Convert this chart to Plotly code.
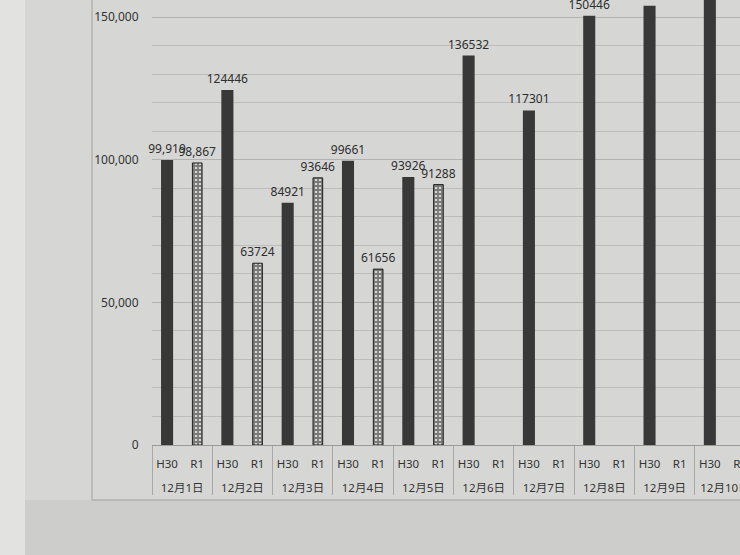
import plotly.graph_objects as go

dates = ["12月1日", "12月2日", "12月3日", "12月4日", "12月5日",
         "12月6日", "12月7日", "12月8日", "12月9日", "12月10日"]
series_names = ["H30", "R1"]
h30_values = [99919, 124446, 84921, 99661, 93926, 136532, 117301, 150446, 154000, 162000]
h30_labels = ["99,919", "124446", "84921", "99661", "93926", "136532", "117301", "150446", "154000", "162000"]
r1_values = [98867, 63724, 93646, 61656, 91288, None, None, None, None, None]
r1_labels = ["98,867", "63724", "93646", "61656", "91288", "", "", "", "", ""]

# build the two-level category axis: (date, H30), (date, R1) for each date
# (the leading <br> only drops the date row a line lower, as in the original)
lvl0, lvl1 = [], []
h30_y, h30_t, r1_y, r1_t = [], [], [], []
for i, d in enumerate(dates):
    for s in series_names:
        lvl0.append("<br>" + d)
        lvl1.append(s)
        if s == "H30":
            h30_y.append(h30_values[i]); h30_t.append(h30_labels[i])
            r1_y.append(None); r1_t.append("")
        else:
            h30_y.append(None); h30_t.append("")
            r1_y.append(r1_values[i]); r1_t.append(r1_labels[i])

FONT = "Noto Sans, Noto Sans CJK JP, sans-serif"
BG = "#d6d7d5"

fig = go.Figure()
fig.add_trace(go.Bar(
    x=[lvl0, lvl1], y=h30_y, text=h30_t, textposition="outside",
    constraintext="none",
    marker=dict(color="#383838", line=dict(width=0)),
    width=0.4, name="H30", cliponaxis=False,
    textfont=dict(size=12, color="#2e2e2e", family=FONT),
))
fig.add_trace(go.Bar(
    x=[lvl0, lvl1], y=r1_y, text=r1_t, textposition="outside",
    constraintext="none",
    marker=dict(color=BG,
                pattern=dict(shape="+", fgcolor="#1e1e1e", bgcolor=BG, size=4, solidity=0.7),
                line=dict(color="#1e1e1e", width=1)),
    width=0.32, name="R1", cliponaxis=False,
    textfont=dict(size=12, color="#2e2e2e", family=FONT),
))

fig.update_layout(
    width=740, height=555,
    margin=dict(l=152, r=0, t=0, b=110, autoexpand=False),
    paper_bgcolor=BG, plot_bgcolor=BG,
    barmode="overlay", showlegend=False,
    font=dict(family=FONT, size=11, color="#333333"),
    xaxis=dict(type="multicategory", range=[-0.5, 19.0], automargin=False,
               showdividers=True, dividercolor="#a8a8a6", dividerwidth=1,
               ticklabelstandoff=8, tickangle=0,
               tickfont=dict(size=11.5, color="#333333"),
               showline=True, linecolor="#9a9a98", linewidth=1, showgrid=False),
    yaxis=dict(range=[0, 156000], dtick=50000, tickformat=",d", automargin=False,
               showgrid=True, gridcolor="#b2b2b0", gridwidth=1,
               minor=dict(dtick=10000, showgrid=True, gridcolor="#bcbcba", gridwidth=1),
               ticks="outside", ticklen=10, tickcolor="rgba(0,0,0,0)",
               tickfont=dict(size=12, color="#333333"),
               zeroline=False, showline=False),
    shapes=[
        # darker paper strip below the chart frame (photo shading)
        dict(type="rect", xref="paper", yref="paper",
             x0=-152 / 588, x1=1.05, y0=-110 / 445, y1=-55 / 445,
             line=dict(width=0), fillcolor="#cdcecc", layer="below"),
        # light edge at the far left of the photo
        dict(type="rect", xref="paper", yref="paper",
             x0=-152 / 588, x1=-127 / 588, y0=-110 / 445, y1=1.0,
             line=dict(width=0), fillcolor="#e2e3e1", layer="below"),
        # chart frame
        dict(type="rect", xref="paper", yref="paper",
             x0=(92 - 152) / 588, x1=1.05, y0=-55 / 445, y1=1.05,
             line=dict(color="#a0a09e", width=1), fillcolor="rgba(0,0,0,0)", layer="below"),
    ],
)

fig.write_html("out.html", config={"displayModeBar": False},
               post_script="document.body.style.margin='0';document.body.style.background='" + BG + "';")
